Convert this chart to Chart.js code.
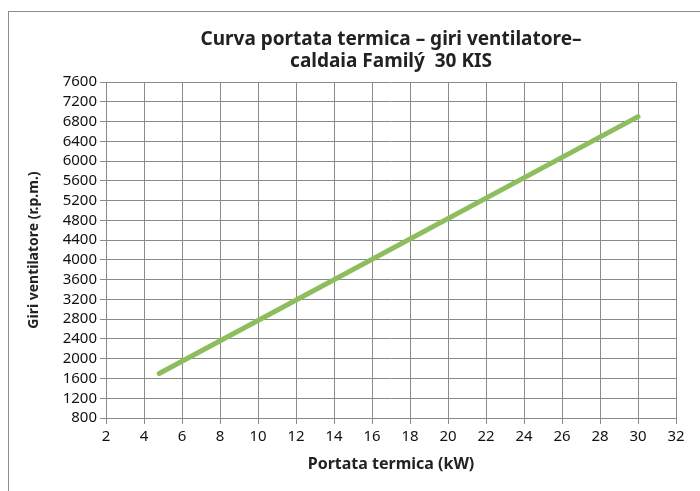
<!DOCTYPE html>
<html>
<head>
<meta charset="utf-8">
<script src="https://cdn.jsdelivr.net/npm/chart.js@4.4.1/dist/chart.umd.min.js"></script>
<style>
  html, body { margin: 0; padding: 0; background: #fff; overflow: hidden; }
  #wrap { position: relative; width: 700px; height: 491px; }
  #frame {
    position: absolute; left: 8px; top: 11px; width: 720px; height: 520px;
    border: 1px solid #8c8c8c; pointer-events: none;
  }
</style>
</head>
<body>
<div id="wrap">
  <canvas id="fanChart" width="700" height="491"></canvas>
  <div id="frame"></div>
</div>
<script>
// portata termica (kW) vs giri ventilatore (r.p.m.)
var portata = [4.8, 30];
var giri = [1700, 6900];
var xTicks = [2, 32, 2];      // min, max, step
var yTicks = [800, 7600, 400];

var gridColor = "#8a8a8a";
var font = "'Noto Sans', 'DejaVu Sans', sans-serif";
var padL = 26, padB = 17;

function lineChart(){
    var pts = portata.map(function(x, i){ return { x: x, y: giri[i] }; });

    new Chart("fanChart", {
        type: "line",
        data: {
            datasets: [{
                data: pts,
                borderColor: "#8dbd5c",
                borderWidth: 5,
                borderCapStyle: "round",
                pointRadius: 0,
                fill: false,
                tension: 0
            }]
        },
        options: {
            responsive: false,
            animation: false,
            layout: { padding: { left: padL, right: 24, top: 20, bottom: padB } },
            plugins: {
                legend: { display: false },
                tooltip: { enabled: false },
                title: {
                    display: true,
                    fullSize: false,
                    text: ["Curva portata termica \u2013 giri ventilatore\u2013", "caldaia Family\u0301  30 KIS"],
                    color: "#222",
                    font: { family: font, size: 19, weight: "bold", lineHeight: 1.16 },
                    padding: { top: 9, bottom: 9 }
                }
            },
            scales: {
                x: {
                    type: "linear",
                    min: xTicks[0], max: xTicks[1],
                    ticks: {
                        stepSize: xTicks[2], color: "#111", font: { family: font, size: 15 }, padding: 4,
                        maxRotation: 0, autoSkip: false,
                        callback: function(v){ return String(v); }
                    },
                    grid: { color: gridColor, lineWidth: 1, tickLength: 6, tickColor: gridColor },
                    border: { color: gridColor, width: 1 },
                    title: {
                        display: true, text: "Portata termica (kW)", color: "#222",
                        font: { family: font, size: 16, weight: "bold" }, padding: { top: 8, bottom: 0 }
                    },
                    afterFit: function(s){ s.height = 491 - padB - 418; }
                },
                y: {
                    min: yTicks[0], max: yTicks[1],
                    ticks: {
                        stepSize: yTicks[2], color: "#111", font: { family: font, size: 15, lineHeight: 1 }, padding: 3,
                        autoSkip: false,
                        callback: function(v){ return String(v); }
                    },
                    grid: { color: gridColor, lineWidth: 1, tickLength: 6, tickColor: gridColor },
                    border: { color: gridColor, width: 1 },
                    title: {
                        display: true, text: "Giri ventilatore (r.p.m.)", color: "#222",
                        font: { family: font, size: 14, weight: "bold" }, padding: { top: 0, bottom: 8 }
                    },
                    afterFit: function(s){ s.width = 106 - padL; }
                }
            }
        }
    });
}

lineChart();
</script>
</body>
</html>
